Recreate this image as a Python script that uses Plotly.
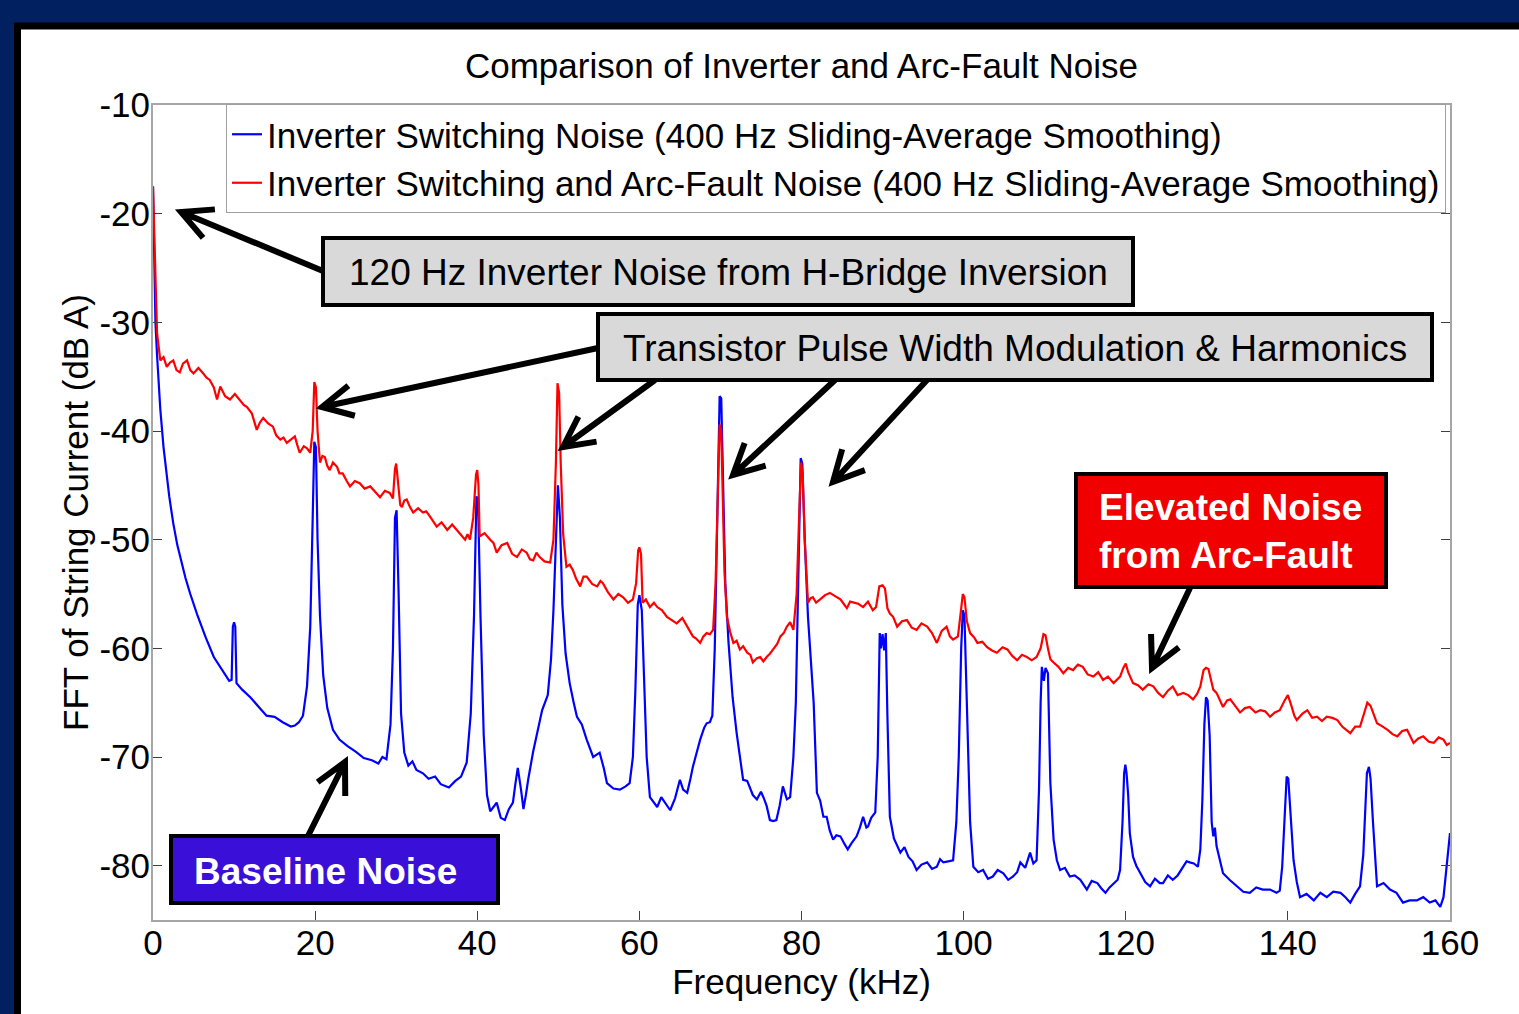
import math
import plotly.graph_objects as go

# ---------------- data ----------------
freq_blue = [0, 0.15, 0.3, 0.5, 0.9, 1.3, 2.0, 2.5, 3.0, 4.0, 4.6, 5.5, 6.5, 7.5, 8.5, 9.4, 9.7, 9.85, 10.0, 10.15,
             10.3, 11.0, 12.0, 13.0, 14.0, 15.0, 16.0, 17.0, 17.5, 18.0, 18.5, 19.0, 19.4, 19.7, 19.9, 20.1, 20.3, 20.6,
             21.0, 21.5, 22.2, 23.0, 24.0, 25.0, 26.0, 27.0, 27.8, 28.3, 28.8, 29.3, 29.6, 29.85, 30.05, 30.3, 30.6,
             31.0, 31.5, 32.0, 32.5, 33.3, 34.0, 34.8, 35.5, 36.5, 37.3, 38.0, 38.7, 39.2, 39.6, 39.9, 40.1, 40.4,
             40.8, 41.2, 41.6, 42.0, 42.4, 42.9, 43.4, 43.9, 44.4, 44.7, 45.0, 45.4, 45.7, 46.0, 46.3, 46.9, 47.5,
             48.0, 48.7, 49.1, 49.4, 49.7, 49.95, 50.2, 50.5, 50.9, 51.4, 51.9, 52.3, 52.9, 53.5, 54.3, 55.1, 55.6,
             56.0, 56.8, 57.6, 58.3, 58.8, 59.2, 59.5, 59.8, 60.0, 60.3, 60.6, 60.9, 61.3, 61.8, 62.2, 62.7, 63.2,
             63.8, 64.4, 65.0, 65.4, 65.9, 66.3, 66.6, 67.0, 67.5, 68.0, 68.3, 68.7, 69.0, 69.3, 69.6, 69.9, 70.1,
             70.35, 70.6, 71.0, 71.5, 72.0, 72.5, 72.8, 73.3, 73.6, 74.0, 74.5, 75.0, 75.3, 75.7, 76.1, 76.5, 76.9,
             77.3, 77.7, 78.2, 78.6, 79.0, 79.3, 79.6, 79.9, 80.1, 80.4, 80.8, 81.2, 81.5, 81.9, 82.3, 82.7, 83.1,
             83.5, 83.9, 84.3, 84.8, 85.3, 85.7, 86.2, 86.8, 87.2, 87.6, 88.0, 88.2, 88.6, 89.1, 89.4, 89.65, 89.8,
             90.0, 90.2, 90.4, 90.6, 90.9, 91.4, 91.8, 92.2, 92.7, 93.2, 93.7, 94.2, 94.8, 95.5, 96.1, 96.7, 97.1,
             97.5, 98.1, 98.7, 99.1, 99.4, 99.7, 99.9, 100.1, 100.3, 100.5, 100.8, 101.2, 101.8, 102.4, 103.0, 103.6,
             104.2, 104.9, 105.5, 106.1, 106.6, 107.0, 107.6, 108.2, 108.6, 109.0, 109.3, 109.5, 109.65, 109.9,
             110.1, 110.4, 110.7, 111.1, 111.5, 111.9, 112.5, 113.1, 113.7, 114.4, 114.8, 115.2, 115.8, 116.5,
             117.0, 117.5, 118.0, 118.5, 119.0, 119.3, 119.6, 119.8, 119.95, 120.1, 120.3, 120.5, 120.9, 121.3,
             121.8, 122.4, 123.0, 123.6, 124.2, 124.6, 125.2, 125.8, 126.4, 127.1, 127.5, 127.9, 128.4, 128.9,
             129.2, 129.45, 129.7, 129.9, 130.1, 130.35, 130.6, 130.8, 131.0, 131.2, 131.6, 132.0, 132.8, 133.7,
             134.5, 135.3, 136.1, 136.9, 137.8, 138.6, 139.0, 139.3, 139.6, 139.85, 140.05, 140.3, 140.7, 141.1,
             141.5, 142.3, 143.2, 144.0, 144.8, 145.6, 146.5, 147.1, 147.7, 148.3, 148.9, 149.3, 149.5, 149.75,
             150.0, 150.2, 150.5, 151.0, 151.8, 152.6, 153.4, 154.2, 155.0, 155.9, 156.7, 157.5, 158.2, 158.8,
             159.2, 159.6, 160.0]
db_blue = [-17.5, -25, -30, -33, -38, -41.5, -46, -48.5, -50.5, -53.5, -55, -57, -59, -60.8, -62, -63, -62.9, -58,
           -57.6, -58, -63.2, -63.8, -64.5, -65.3, -66.2, -66.3, -66.8, -67.2, -67.1, -66.8, -66.2, -63.5, -58, -48,
           -41, -41.5, -50, -57, -62.5, -65.5, -67.5, -68.4, -69, -69.5, -70.1, -70.3, -70.6, -70, -70.2, -67, -60,
           -48, -47.3, -55, -66, -69.6, -70.8, -70.4, -71.2, -71.5, -72, -71.8, -72.5, -72.8, -72.2, -71.8, -70.5,
           -66, -57, -46, -46.5, -57, -68, -73.5, -75, -74.6, -74.2, -75.6, -75.8, -74.8, -74.2, -72.5, -71, -73,
           -74.8, -73.5, -72, -69.5, -67.5, -65.7, -64.3, -61, -56.5, -49, -45, -48, -56, -60.5, -63.2, -65, -66.3,
           -67, -68.4, -70, -69.6, -71, -72.4, -72.9, -73, -72.7, -72.4, -70, -64, -56, -55.1, -56.5, -64, -70,
           -73.7, -74.2, -74.6, -73.7, -74.2, -74.9, -73.8, -72.1, -73, -73.3, -72, -70.9, -69.8, -68.4, -67.3,
           -66.9, -66.8, -66.2, -60, -48, -36.8, -37, -46, -54, -59.5, -64.5, -67.8, -70.5, -72.1, -72.2, -72.7,
           -73.5, -73.9, -73.2, -73.7, -74.5, -75.8, -75.9, -75.8, -74.5, -72.7, -73.9, -73.7, -70, -65, -55, -42.5,
           -43, -50, -57.1, -61.5, -65, -73.3, -74, -75.5, -75.5, -76.8, -77.6, -77.2, -77.3, -78, -78.5, -77.9,
           -77.3, -76.5, -75.5, -76.5, -76.4, -75.6, -75.1, -70, -58.6, -60, -58.7, -60.2, -58.6, -66.3, -75.5,
           -77.5, -78.2, -78.8, -78.3, -79.2, -79.6, -80.4, -79.9, -79.7, -80.3, -80.1, -79.4, -79.7, -79.6, -79.5,
           -76, -70, -60, -56.5, -57, -62, -69.3, -76, -80.1, -80.6, -80.4, -81.2, -81, -80.4, -80.7, -81.3, -81,
           -80.6, -79.7, -80.2, -78.8, -79.8, -79.5, -73, -65, -61.7, -63, -61.8, -62.3, -72.4, -77.6, -79.5, -80.4,
           -80.2, -81, -80.9, -81.3, -81.7, -82.2, -81.4, -81.6, -82.1, -82.5, -82, -81.6, -81.3, -80.4, -76, -71.5,
           -70.7, -71.5, -73.5, -77, -79.2, -80, -80.7, -81.5, -81.9, -81.2, -81.6, -81.6, -80.9, -81.3, -80.9,
           -80.1, -79.6, -79.7, -79.8, -80.1, -78.5, -74, -67, -64.5, -64.8, -68, -76, -77.3, -76.5, -78.2, -79.5,
           -80.7, -81.3, -81.9, -82.4, -82.5, -82, -82.2, -82.2, -82.5, -82.3, -80.1, -75, -71.8, -72, -75, -79.5,
           -81.5, -82.9, -82.6, -83.2, -82.5, -82.9, -82.4, -82.5, -82.9, -83.4, -82.6, -81.9, -79, -75.8, -71.5,
           -70.9, -72, -76, -81.9, -81.6, -82.2, -82.5, -83.4, -83.2, -83.2, -82.9, -83.4, -83.2, -83.8, -82.9, -80,
           -77]

freq_red = [0, 0.15, 0.3, 0.5, 0.9, 1.3, 1.7, 2.1, 2.5, 2.9, 3.3, 3.7, 4.2, 4.6, 5.0, 5.6, 6.2, 6.6, 7.0, 7.5, 7.9,
            8.3, 8.9, 9.5, 10.1, 10.7, 11.2, 11.6, 12.2, 12.8, 13.2, 13.6, 14.2, 14.8, 15.2, 15.7, 16.1, 16.5, 17.0,
            17.5, 17.8, 18.1, 18.6, 19.0, 19.4, 19.7, 19.9, 20.1, 20.3, 20.6, 20.9, 21.2, 21.5, 21.8, 22.2, 22.7,
            23.0, 23.4, 23.9, 24.3, 24.9, 25.5, 26.1, 26.8, 27.4, 28.0, 28.6, 29.2, 29.6, 29.85, 30.0, 30.2, 30.5,
            30.7, 31.0, 31.3, 31.7, 32.1, 32.7, 33.3, 33.7, 34.2, 34.6, 35.0, 35.6, 36.3, 36.9, 37.5, 38.0, 38.5,
            38.8, 39.1, 39.5, 39.85, 40.0, 40.15, 40.3, 40.9, 41.6, 42.0, 42.4, 43.0, 43.7, 44.3, 44.9, 45.5, 46.1,
            46.5, 46.9, 47.3, 47.7, 48.3, 49.0, 49.4, 49.7, 49.9, 50.1, 50.3, 50.6, 51.0, 51.4, 51.8, 52.2, 52.7,
            53.1, 53.5, 54.2, 54.8, 55.2, 55.5, 56.1, 56.8, 57.4, 58.0, 58.6, 59.2, 59.6, 59.85, 60.0, 60.2, 60.4,
            60.8, 61.3, 61.8, 62.2, 62.8, 63.4, 64.0, 64.6, 65.3, 65.9, 66.3, 66.6, 67.0, 67.5, 67.9, 68.3, 68.7,
            69.1, 69.4, 69.7, 69.9, 70.1, 70.3, 70.5, 70.8, 71.2, 71.6, 72.0, 72.4, 72.8, 73.3, 73.7, 74.0, 74.5,
            74.9, 75.3, 75.7, 76.1, 76.5, 77.0, 77.4, 77.8, 78.2, 78.6, 79.0, 79.4, 79.7, 79.95, 80.15, 80.4, 80.8,
            81.1, 81.4, 81.8, 82.3, 82.9, 83.5, 84.1, 84.8, 85.2, 85.6, 86.0, 86.4, 87.0, 87.6, 88.2, 88.8, 89.2,
            89.6, 90.0, 90.3, 90.6, 90.9, 91.3, 91.8, 92.4, 93.0, 93.6, 94.2, 94.8, 95.5, 96.1, 96.7, 97.3, 97.9,
            98.3, 98.7, 99.3, 99.6, 99.9, 100.1, 100.4, 100.8, 101.3, 101.7, 102.3, 102.9, 103.5, 104.1, 104.8,
            105.4, 106.0, 106.6, 107.2, 107.8, 108.4, 109.0, 109.5, 109.85, 110.1, 110.4, 110.7, 111.1, 111.7,
            112.3, 112.9, 113.5, 114.1, 114.7, 115.3, 116.0, 116.6, 117.2, 117.8, 118.5, 118.9, 119.3, 119.7,
            120.0, 120.3, 120.9, 121.5, 122.1, 122.8, 123.4, 124.0, 124.6, 125.2, 125.8, 126.4, 127.1, 127.7,
            128.3, 128.8, 129.2, 129.6, 129.9, 130.2, 130.5, 130.8, 131.2, 131.6, 132.0, 132.5, 132.9, 133.5,
            134.1, 134.7, 135.3, 136.0, 136.6, 137.2, 137.8, 138.4, 139.0, 139.6, 140.0, 140.4, 140.8, 141.1,
            141.8, 142.4, 143.0, 143.6, 144.2, 144.8, 145.5, 146.1, 146.7, 147.2, 147.7, 148.3, 148.9, 149.4,
            149.8, 150.2, 150.6, 151.0, 151.7, 152.3, 152.9, 153.5, 154.1, 154.7, 155.1, 155.5, 156.1, 156.7,
            157.4, 158.0, 158.6, 159.2, 159.6, 160.0]
db_red = [-17.5, -22, -27, -31, -33.5, -33.2, -34.1, -33.7, -33.5, -34.4, -34.6, -33.8, -33.5, -34.4, -34.7, -34.2,
          -34.7, -35.1, -35.3, -36.0, -37.1, -35.9, -36.8, -37.1, -36.6, -37.1, -37.6, -37.8, -38.4, -39.9, -39.2,
          -38.8, -39.3, -39.6, -40.4, -40.8, -40.6, -41.1, -40.8, -40.5, -41.3, -42, -41.4, -41.6, -42, -40, -35.5,
          -36, -40, -42.9, -42.3, -42.4, -43.2, -43.6, -42.9, -43.3, -43.9, -43.9, -44.6, -45.1, -44.6, -44.8,
          -45.3, -45.1, -45.6, -46.1, -45.5, -45.7, -46.2, -43.5, -43, -44.5, -46.8, -47, -46.4, -46.3, -47, -47.5,
          -47.1, -47.5, -47.4, -47.9, -48.3, -48.8, -48.4, -49.1, -48.6, -49.1, -49.6, -50, -49.5, -50, -48, -44,
          -43.6, -45, -49.7, -49.4, -50, -50.3, -51.2, -50.5, -50.3, -51.3, -51.6, -50.9, -51.2, -51.8, -51.9,
          -51.2, -51.6, -52, -52.1, -50, -43, -35.6, -36.5, -43, -49.5, -52.5, -52.3, -52.8, -53.6, -54.3, -53.4,
          -53.4, -54.1, -54.3, -53.8, -54, -54.8, -55.5, -55, -55.3, -55.8, -55.5, -54, -51, -50.7, -51.3, -55.8,
          -55.5, -56.2, -55.8, -56.2, -56.5, -57.1, -57.4, -57.7, -57.2, -58, -58.4, -58.9, -59.1, -59.5, -58.9,
          -58.6, -58.7, -58.3, -54, -45, -39.4, -40, -46, -53, -57.1, -58.5, -59.5, -59.3, -60.1, -59.8, -60.4,
          -60.6, -61.3, -60.9, -60.8, -61.2, -60.8, -60.5, -60.1, -59.6, -58.9, -58.6, -58, -57.6, -58.3, -55, -48,
          -42.9, -44, -50, -55.8, -55.4, -55.3, -55.8, -55.5, -55.1, -54.9, -55.2, -55.5, -55.9, -56.3, -55.7,
          -55.8, -55.9, -56.2, -55.7, -56.5, -56.2, -54.3, -54.2, -54.5, -56.3, -56.8, -57.1, -58, -57.5, -57.4,
          -58.1, -58.3, -57.7, -58, -58.6, -59.5, -58.4, -58, -58.9, -59.2, -58.9, -57, -55, -55.3, -57.5, -58.6,
          -59, -59.5, -59.4, -59.9, -60.2, -60.4, -59.9, -60.1, -60.7, -61.1, -60.6, -60.8, -61.1, -60.8, -60,
          -58.7, -58.8, -60, -61, -61.3, -61.7, -62.3, -61.8, -62, -61.5, -61.7, -62.4, -62.6, -62.2, -62.9, -62.6,
          -63.2, -62.9, -62.6, -61.8, -61.4, -62.2, -63.2, -63.4, -63.8, -63.3, -63.5, -64.1, -64.5, -63.9, -63.5,
          -64.3, -64.1, -64.3, -64.7, -64.2, -63.5, -62, -61.8, -61.9, -63, -63.8, -64.1, -64.8, -65.4, -64.8,
          -64.7, -65.3, -65.9, -65.5, -65.4, -65.9, -65.7, -65.8, -66.3, -65.9, -65.7, -64.8, -64.3, -65.2, -66.2,
          -66.6, -66, -65.7, -66.4, -66.3, -66.7, -66.3, -66.4, -66.6, -67.2, -67.5, -67.8, -67.2, -67.2, -66,
          -65, -65.3, -66.2, -66.9, -67.2, -67.5, -67.9, -68.1, -67.6, -67.5, -68.1, -68.7, -68.3, -68.1, -68.6,
          -68.7, -68.2, -68.4, -68.9, -68.7]

x_ticks = [0, 20, 40, 60, 80, 100, 120, 140, 160]
x_tick_labels = ["0", "20", "40", "60", "80", "100", "120", "140", "160"]
y_ticks = [-10, -20, -30, -40, -50, -60, -70, -80]
y_tick_labels = ["-10", "-20", "-30", "-40", "-50", "-60", "-70", "-80"]

name_blue = "Inverter Switching Noise (400 Hz Sliding-Average Smoothing)"
name_red = "Inverter Switching and Arc-Fault Noise (400 Hz Sliding-Average Smoothing)"

# ---------------- layout geometry ----------------
W, H = 1519, 1014
ML, MR, MT, MB = 153, 69, 105, 94
PW = W - ML - MR
PH = H - MT - MB
FONT = "Liberation Sans, Arial, Helvetica, sans-serif"


def px(xp):
    return (xp - ML) / PW


def py(yp):
    return (H - MB - yp) / PH


fig = go.Figure()
fig.add_trace(go.Scatter(x=freq_blue, y=db_blue, mode="lines", name=name_blue,
                         line=dict(color="#0000ff", width=2.2)))
fig.add_trace(go.Scatter(x=freq_red, y=db_red, mode="lines", name=name_red,
                         line=dict(color="#ff0000", width=2.2)))

shapes = []
# white slide panel with black border
shapes.append(dict(type="rect", xref="paper", yref="paper", layer="below",
                   x0=px(17.5), x1=px(1540), y0=py(1040), y1=py(26),
                   fillcolor="white", line=dict(color="black", width=7)))


def arrow(tail, tip, length=34, theta=27):
    dx, dy = tail[0] - tip[0], tail[1] - tip[1]
    n = math.hypot(dx, dy)
    ux, uy = dx / n, dy / n
    arms = []
    for s in (1, -1):
        t = math.radians(theta * s)
        rx = ux * math.cos(t) - uy * math.sin(t)
        ry = ux * math.sin(t) + uy * math.cos(t)
        arms.append((tip[0] + length * rx, tip[1] + length * ry))
    p = lambda q: f"{px(q[0]):.5f},{py(q[1]):.5f}"
    path = (f"M {p(tail)} L {p(tip)} M {p(arms[0])} L {p(tip)} L {p(arms[1])}")
    return dict(type="path", xref="paper", yref="paper", layer="above", path=path,
                line=dict(color="black", width=6))


arrows = [((323, 271), (181, 212)),
          ((598, 348), (322, 407)),
          ((655, 380), (563, 447)),
          ((835, 380), (733, 475)),
          ((927, 380), (833, 482)),
          ((1190, 588), (1152, 668)),
          ((308, 836), (345, 762))]
for tail, tip in arrows:
    shapes.append(arrow(tail, tip))

boxes = [((323, 238, 1133, 305), "#d9d9d9"),
         ((598, 314, 1432, 380), "#d9d9d9"),
         ((1076, 474, 1386, 587), "#f00000"),
         ((171, 836, 498, 903), "#3a0fd8")]
for (x0, y0, x1, y1), col in boxes:
    shapes.append(dict(type="rect", xref="paper", yref="paper", layer="above",
                       x0=px(x0), x1=px(x1), y0=py(y1), y1=py(y0),
                       fillcolor=col, line=dict(color="black", width=4)))

annotations = [
    dict(text="120 Hz Inverter Noise from H-Bridge Inversion", x=px(728), y=py(272),
         font=dict(size=37, color="black", family=FONT)),
    dict(text="Transistor Pulse Width Modulation & Harmonics", x=px(1015), y=py(348),
         font=dict(size=37, color="black", family=FONT)),
    dict(text="<b>Elevated Noise</b><br><b>from Arc-Fault</b>", x=px(1230), y=py(531), align="left",
         font=dict(size=37, color="white", family=FONT)),
    dict(text="<b>Baseline Noise</b>", x=px(325), y=py(871),
         font=dict(size=37, color="white", family=FONT)),
]
for a in annotations:
    a.update(xref="paper", yref="paper", showarrow=False, xanchor="center", yanchor="middle")

axis_common = dict(showgrid=False, zeroline=False, showline=True, linecolor="#a6a6a6", linewidth=2,
                   mirror="ticks", ticks="inside", ticklen=9, tickwidth=1, tickcolor="#404040",
                   tickfont=dict(size=35, color="black", family=FONT))

fig.update_layout(
    width=W, height=H,
    margin=dict(l=ML, r=MR, t=MT, b=MB, pad=0),
    paper_bgcolor="#002060",
    plot_bgcolor="white",
    font=dict(family=FONT, color="black"),
    title=dict(text="Comparison of Inverter and Arc-Fault Noise", x=0.5, xref="paper", xanchor="center",
               y=1 - 66 / H, yanchor="middle", font=dict(size=35, color="black", family=FONT)),
    xaxis=dict(range=[0, 160], tickvals=x_ticks, ticktext=x_tick_labels, ticklabelstandoff=-9,
               title=dict(text="Frequency (kHz)", font=dict(size=35, color="black", family=FONT), standoff=0),
               **axis_common),
    yaxis=dict(range=[-85, -10], tickvals=y_ticks, ticktext=y_tick_labels, ticklabelstandoff=-6,
               title=dict(text="FFT of String Current (dB A)", font=dict(size=35, color="black", family=FONT),
                          standoff=0),
               **axis_common),
    legend=dict(x=px(226), y=py(104), xanchor="left", yanchor="top", bgcolor="white",
                bordercolor="#a0a0a0", borderwidth=1, font=dict(size=35, color="black", family=FONT),
                itemwidth=30, tracegroupgap=0),
    shapes=shapes,
    annotations=annotations,
    showlegend=True,
)

fig.write_html("out.html", config={"displayModeBar": False},
               post_script="document.body.style.margin='0';document.body.style.overflow='hidden';")
